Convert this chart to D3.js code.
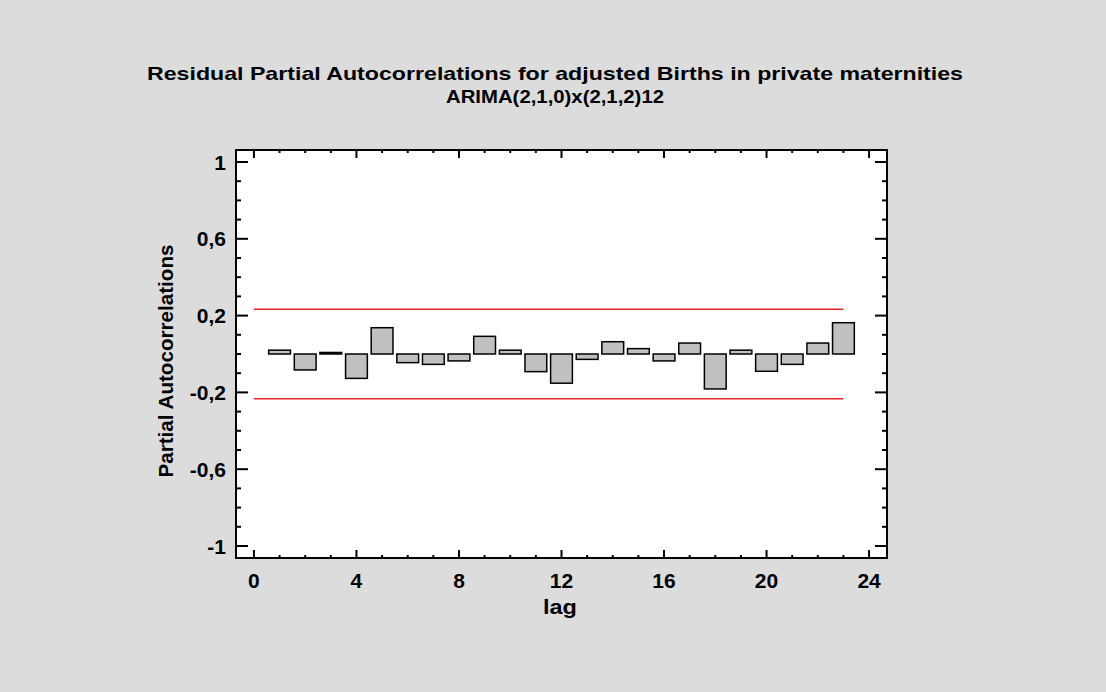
<!DOCTYPE html>
<html>
<head>
<meta charset="utf-8">
<script src="https://cdn.jsdelivr.net/npm/d3@7"></script>
<style>
  html, body { margin: 0; padding: 0; background: #dcdcdc; }
  svg { display: block; }
  svg text { font-family: Arial, "Liberation Sans", sans-serif; font-weight: bold; fill: #000; }
</style>
</head>
<body>
<script>
const titleLines = ["Residual Partial Autocorrelations for adjusted Births in private maternities", "ARIMA(2,1,0)x(2,1,2)12"];
const xLabel = "lag";
const yLabel = "Partial Autocorrelations";
const lags = [1,2,3,4,5,6,7,8,9,10,11,12,13,14,15,16,17,18,19,20,21,22,23];
const pacf = [0.02,-0.083,0.008,-0.127,0.137,-0.045,-0.054,-0.036,0.092,0.02,-0.092,-0.152,-0.028,0.064,0.028,-0.036,0.057,-0.182,0.02,-0.09,-0.054,0.057,0.163];
const limitUpper = 0.233;
const limitLower = -0.233;
const limitLags = [0, 23];
const xTicks = [0,4,8,12,16,20,24];
const yTicks = [-1,-0.6,-0.2,0.2,0.6,1];

const W = 1106, H = 692;
const svg = d3.select("body").append("svg").attr("width", W).attr("height", H);
svg.append("rect").attr("width", W).attr("height", H).attr("fill", "#dcdcdc");

const L = 236, R = 887, T = 150, B = 558;
const x = d3.scaleLinear().domain([-0.70, 24.70]).range([L, R]);
const y = d3.scaleLinear().domain([-1.0625, 1.0625]).range([B, T]);

svg.append("rect").attr("x", L).attr("y", T).attr("width", R - L).attr("height", B - T).attr("fill", "#fff");

// ticks
const g = svg.append("g");
const fmt = d => String(d).replace(".", ",");
const yMinor = d3.range(-10, 11).map(i => i / 10);
yMinor.forEach(v => {
  const major = yTicks.some(t => Math.abs(t - v) < 1e-9);
  const len = major ? 12 : 5;
  g.append("line").attr("x1", L).attr("x2", L + len).attr("y1", y(v)).attr("y2", y(v)).attr("stroke", "#000").attr("stroke-width", 2);
  g.append("line").attr("x1", R).attr("x2", R - len).attr("y1", y(v)).attr("y2", y(v)).attr("stroke", "#000").attr("stroke-width", 2);
});
d3.range(0, 25).forEach(v => {
  const major = v % 4 === 0;
  const len = major ? 8 : 3;
  g.append("line").attr("x1", x(v)).attr("x2", x(v)).attr("y1", B).attr("y2", B - len).attr("stroke", "#000").attr("stroke-width", 2);
  g.append("line").attr("x1", x(v)).attr("x2", x(v)).attr("y1", T).attr("y2", T + len).attr("stroke", "#000").attr("stroke-width", 2);
});

// limit lines
[limitUpper, limitLower].forEach(v => {
  svg.append("line").attr("x1", x(limitLags[0])).attr("x2", x(limitLags[1]))
    .attr("y1", y(v)).attr("y2", y(v)).attr("stroke", "#e8232a").attr("stroke-width", 1.5);
});

// bars
const bw = 0.85;
svg.append("g").selectAll("rect").data(lags).join("rect")
  .attr("x", (d) => x(d - bw / 2))
  .attr("width", x(bw) - x(0))
  .attr("y", (d, i) => y(Math.max(0, pacf[i])))
  .attr("height", (d, i) => Math.abs(y(pacf[i]) - y(0)))
  .attr("fill", "#c0c0c0").attr("stroke", "#000").attr("stroke-width", 1.5);

// frame
svg.append("rect").attr("x", L).attr("y", T).attr("width", R - L).attr("height", B - T)
  .attr("fill", "none").attr("stroke", "#000").attr("stroke-width", 2);

// tick labels
yTicks.forEach(v => {
  svg.append("text").attr("x", 226).attr("y", y(v) + 7.5).attr("text-anchor", "end")
    .style("font-size", "21px").text(fmt(v));
});
xTicks.forEach(v => {
  svg.append("text").attr("x", x(v)).attr("y", 588).attr("text-anchor", "middle")
    .style("font-size", "21px").text(v);
});

// axis titles
svg.append("text").attr("x", 560).attr("y", 614).attr("text-anchor", "middle").style("font-size", "21px")
  .attr("textLength", 34).attr("lengthAdjust", "spacingAndGlyphs").text(xLabel);
svg.append("text").attr("transform", `translate(173,361) rotate(-90)`).attr("text-anchor", "middle").style("font-size", "21px")
  .attr("textLength", 233).attr("lengthAdjust", "spacingAndGlyphs").text(yLabel);

// title
const titleWidths = [816, 218];
titleLines.forEach((t, i) => {
  svg.append("text").attr("x", 555).attr("y", 80 + i * 23).attr("text-anchor", "middle").style("font-size", "19px")
    .attr("textLength", titleWidths[i]).attr("lengthAdjust", "spacingAndGlyphs").text(t);
});
</script>
</body>
</html>
